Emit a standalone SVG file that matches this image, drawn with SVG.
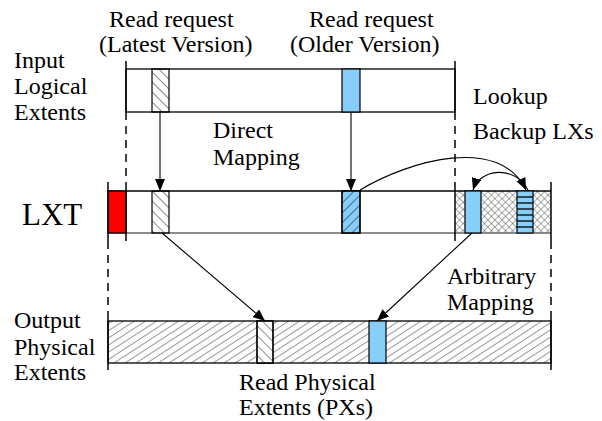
<svg xmlns="http://www.w3.org/2000/svg" width="602" height="421" viewBox="0 0 602 421">
<style>
text{font-family:"Liberation Serif","Times New Roman","DejaVu Serif",serif;font-size:24px;fill:#000}
.bar{stroke:#000;stroke-width:1.3}
.tick{stroke:#000;stroke-width:1.5}
.dash{stroke:#000;stroke-width:1.5;stroke-dasharray:8,6}
.blk{stroke:#000;stroke-width:1.2}
.arr{fill:none;stroke:#000;stroke-width:1.1;marker-end:url(#ah)}
</style>
<defs>
<marker id="ah" viewBox="0 0 12 10" refX="12" refY="5" markerWidth="12" markerHeight="10" markerUnits="userSpaceOnUse" orient="auto">
<path d="M0,0 L12,5 L0,10 z" fill="#000"/>
</marker>
<pattern id="bs" width="7" height="7" patternUnits="userSpaceOnUse" patternTransform="rotate(-45)">
<line x1="0" y1="0" x2="0" y2="7" stroke="#000" stroke-width="0.9"/>
</pattern>
<pattern id="fs" width="7" height="7" patternUnits="userSpaceOnUse" patternTransform="rotate(45)">
<line x1="0" y1="0" x2="0" y2="7" stroke="#000" stroke-width="0.9"/>
</pattern>
<pattern id="fsb" width="6" height="6" patternUnits="userSpaceOnUse" patternTransform="rotate(57)">
<line x1="0" y1="0" x2="0" y2="6" stroke="#000" stroke-width="0.8"/>
</pattern>
<pattern id="xh" width="5" height="5" patternUnits="userSpaceOnUse" patternTransform="rotate(45)">
<line x1="0" y1="0" x2="0" y2="5" stroke="#333" stroke-width="0.8"/>
<line x1="0" y1="0" x2="5" y2="0" stroke="#333" stroke-width="0.8"/>
</pattern>
</defs>

<g id="labels" font-family="Liberation Serif, Times New Roman, DejaVu Serif, serif">
<text x="109" y="27">Read request</text>
<text x="99" y="52">(Latest Version)</text>
<text x="309" y="27">Read request</text>
<text x="290" y="52">(Older Version)</text>
<text x="14" y="68">Input</text>
<text x="14" y="94">Logical</text>
<text x="14" y="120">Extents</text>
<text x="473" y="104">Lookup</text>
<text x="473" y="139">Backup LXs</text>
<text x="213" y="138">Direct</text>
<text x="213" y="165">Mapping</text>
<text x="22" y="225" style="font-size:31px">LXT</text>
<text x="447" y="284">Arbitrary</text>
<text x="447" y="310">Mapping</text>
<text x="14" y="328">Output</text>
<text x="14" y="355">Physical</text>
<text x="14" y="380">Extents</text>
<text x="239" y="390">Read Physical</text>
<text x="239" y="415">Extents (PXs)</text>
</g>

<g id="input-bar">
<rect x="126" y="69" width="329" height="43" fill="#fff" class="bar"/>
<rect x="152" y="69" width="17" height="43" fill="url(#bs)" class="blk"/>
<rect x="342" y="69" width="18" height="43" fill="#87cefa" class="blk"/>
<line x1="126" y1="61" x2="126" y2="112" class="tick"/>
<line x1="455" y1="61" x2="455" y2="112" class="tick"/>
</g>

<g id="lxt-bar">
<rect x="455" y="191" width="96" height="42" fill="url(#xh)"/>
<line x1="108" y1="191" x2="551" y2="191" stroke="#000" stroke-width="1.3"/>
<line x1="108" y1="233" x2="551" y2="233" stroke="#666" stroke-width="1.6"/>
<rect x="108" y="191" width="18" height="42" fill="#ff0000" class="blk"/>
<rect x="152" y="191" width="17" height="42" fill="url(#bs)" class="blk"/>
<rect x="342" y="191" width="18" height="42" fill="#87cefa" class="blk"/>
<rect x="342" y="191" width="18" height="42" fill="url(#fs)" class="blk"/>
<rect x="465" y="191" width="16" height="42" fill="#87cefa" class="blk"/>
<rect x="517" y="191" width="16" height="42" fill="#87cefa" class="blk"/>
<g stroke="#000" stroke-width="1.3">
<line x1="517" y1="197" x2="533" y2="197"/>
<line x1="517" y1="203" x2="533" y2="203"/>
<line x1="517" y1="209" x2="533" y2="209"/>
<line x1="517" y1="215" x2="533" y2="215"/>
<line x1="517" y1="221" x2="533" y2="221"/>
<line x1="517" y1="227" x2="533" y2="227"/>
</g>
<line x1="108" y1="182" x2="108" y2="241" class="tick"/>
<line x1="126" y1="182" x2="126" y2="241" class="tick"/>
<line x1="455" y1="182" x2="455" y2="241" class="tick"/>
<line x1="551" y1="182" x2="551" y2="241" class="tick"/>
</g>

<g id="output-bar">
<rect x="108" y="321" width="443" height="42" fill="url(#fsb)" class="bar"/>
<rect x="257" y="321" width="16" height="42" fill="#fff" class="blk"/>
<rect x="257" y="321" width="16" height="42" fill="url(#bs)" class="blk"/>
<rect x="369" y="321" width="17" height="42" fill="#87cefa" class="blk"/>
<line x1="108" y1="312" x2="108" y2="370" class="tick"/>
<line x1="551" y1="312" x2="551" y2="370" class="tick"/>
</g>

<g id="connectors">
<line x1="126" y1="112" x2="126" y2="182" class="dash"/>
<line x1="455" y1="112" x2="455" y2="182" class="dash"/>
<line x1="108" y1="241" x2="108" y2="312" class="dash"/>
<line x1="551" y1="241" x2="551" y2="312" class="dash"/>
<line x1="160" y1="112" x2="160" y2="191" class="arr"/>
<line x1="351" y1="112" x2="351" y2="191" class="arr"/>
<line x1="162" y1="233" x2="265" y2="321" class="arr"/>
<line x1="472" y1="233" x2="377" y2="321" class="arr"/>
<path d="M360,190 C410,160 500,135 526,190" class="arr"/>
<path d="M528,190 C515,165 480,168 473,190" class="arr"/>
</g>
</svg>
